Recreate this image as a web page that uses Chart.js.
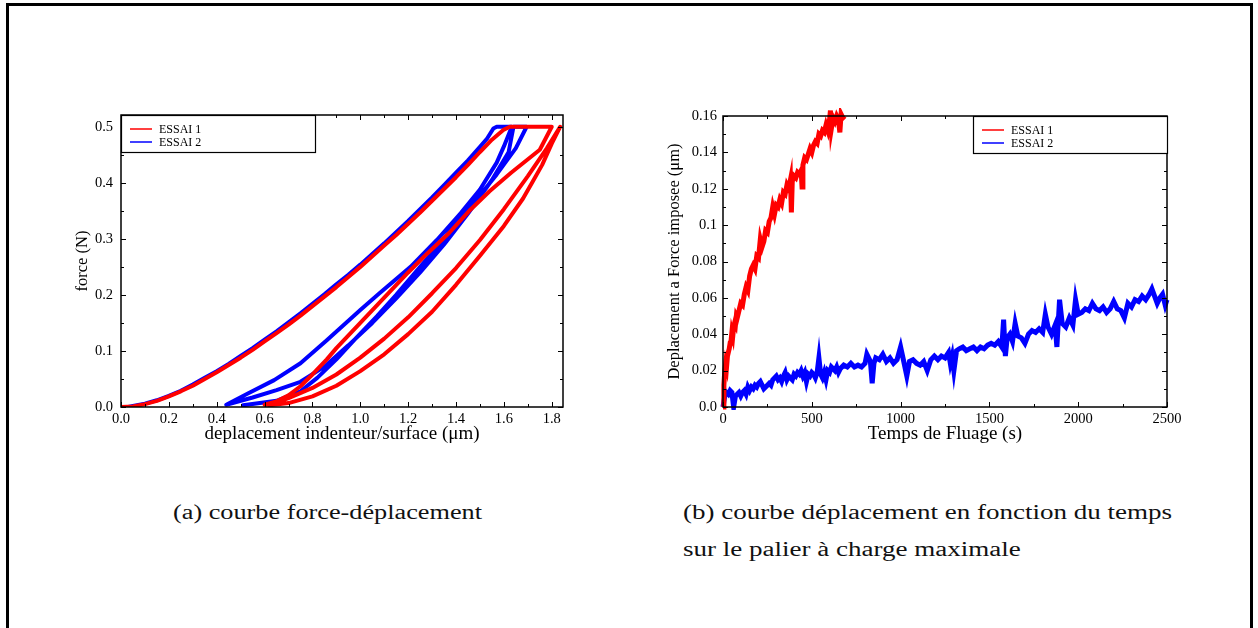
<!DOCTYPE html>
<html><head><meta charset="utf-8">
<script src="https://cdn.jsdelivr.net/npm/chart.js@4"></script>
<style>
html,body{margin:0;padding:0;background:#fff;}
body{width:1258px;height:628px;position:relative;overflow:hidden;font-family:'Liberation Serif',serif;}
#frame{position:absolute;left:6px;top:3px;width:1247px;height:700px;box-sizing:border-box;border:3px solid #000;border-bottom:none;}
canvas{position:absolute;top:0;}
#c1{left:0;} #c2{left:629px;}
.cap{position:absolute;font-size:20px;color:#111;white-space:nowrap;transform-origin:0 0;line-height:1;font-family:'Liberation Serif',serif;}
</style></head>
<body>
<div id="frame"></div>
<canvas id="c1" width="629" height="480"></canvas>
<canvas id="c2" width="629" height="480"></canvas>
<div class="cap" id="capA" style="left:173px;top:502px;">(a) courbe force-déplacement</div>
<div class="cap" id="capB1" style="left:683px;top:502px;">(b) courbe déplacement en fonction du temps</div>
<div class="cap" id="capB2" style="left:683px;top:539px;">sur le palier à charge maximale</div>
<script>
// ---------- DATA ----------
const seriesNames = ['ESSAI 1', 'ESSAI 2'];

// (a) force-displacement, ESSAI 1 : load, hold, unload, reload, unload
const essai1Disp = [0,0.05,0.1,0.15,0.2,0.25,0.3,0.35,0.4,0.45,0.5,0.55,0.6,0.65,0.7,0.75,0.8,0.85,0.9,0.95,1.0,1.05,1.1,1.15,1.2,1.25,1.3,1.35,1.4,1.45,1.5,1.55,1.6,1.625,
  1.70,1.80,
  1.75,1.63,1.54,1.46,1.37,1.28,1.2,1.1,1.0,0.9,0.86,0.8,0.75,0.7,0.65,0.6,
  0.62,0.7,0.8,0.9,1.0,1.1,1.2,1.3,1.4,1.5,1.6,1.7,1.78,1.835,
  1.8,1.76,1.72,1.68,1.6,1.5,1.4,1.3,1.2,1.1,1.0,0.9,0.8,0.7,0.62];
const essai1Force = [0,0.001,0.005,0.011,0.019,0.028,0.038,0.05,0.062,0.075,0.088,0.102,0.117,0.132,0.147,0.163,0.18,0.197,0.214,0.232,0.25,0.269,0.288,0.307,0.327,0.347,0.368,0.389,0.41,0.432,0.455,0.477,0.495,0.5,
  0.5,0.5,
  0.459,0.418,0.385,0.352,0.31,0.274,0.24,0.195,0.15,0.105,0.085,0.058,0.037,0.021,0.01,0.004,
  0.004,0.016,0.034,0.058,0.088,0.122,0.16,0.203,0.248,0.298,0.353,0.412,0.462,0.5,
  0.47,0.432,0.402,0.372,0.323,0.27,0.218,0.17,0.13,0.094,0.064,0.038,0.019,0.007,0.003];

// (a) force-displacement, ESSAI 2
const essai2Disp = [0.03,0.05,0.1,0.15,0.2,0.25,0.3,0.35,0.4,0.45,0.5,0.55,0.6,0.65,0.7,0.75,0.8,0.85,0.9,0.95,1.0,1.05,1.1,1.15,1.2,1.25,1.3,1.35,1.4,1.45,1.5,1.53,1.556,1.57,
  1.633,
  1.6,1.57,1.5,1.42,1.32,1.21,1.08,1.0,0.86,0.75,0.64,0.53,0.44,
  0.55,0.65,0.75,0.85,0.95,1.05,1.15,1.25,1.35,1.45,1.55,1.62,1.64,
  1.695,
  1.65,1.57,1.5,1.42,1.33,1.25,1.15,1.07,0.98,0.9,0.82,0.75,0.65,0.51];
const essai2Force = [0,0.002,0.006,0.012,0.02,0.029,0.04,0.052,0.064,0.077,0.091,0.105,0.12,0.135,0.151,0.167,0.184,0.201,0.219,0.236,0.254,0.273,0.292,0.312,0.332,0.353,0.374,0.396,0.418,0.44,0.464,0.479,0.497,0.5,
  0.5,
  0.465,0.436,0.388,0.346,0.298,0.25,0.203,0.173,0.119,0.078,0.048,0.024,0.004,
  0.017,0.03,0.045,0.072,0.11,0.15,0.194,0.24,0.29,0.345,0.405,0.455,0.5,
  0.5,
  0.462,0.415,0.378,0.338,0.29,0.25,0.2,0.162,0.122,0.085,0.052,0.028,0.011,0.003];

// (b) creep: displacement vs time
const essai1Time = [0,5,10,15,20,25,30,35,40,45,50,55,60,65,70,75,80,90,100,110,120,130,140,150,160,170,180,190,200,210,220,230,240,250,260,270,280,290,300,310,320,330,340,350,360,370,380,385,390,400,410,420,430,440,445,450,460,470,480,490,500,510,520,530,540,550,560,570,580,590,600,605,610,620,630,640,650,658,665,675,685];
const essai1Creep = [0,0.012,0.020,0.024,0.022,0.028,0.030,0.032,0.035,0.036,0.041,0.039,0.044,0.046,0.045,0.050,0.049,0.053,0.057,0.056,0.062,0.066,0.064,0.072,0.076,0.078,0.076,0.083,0.082,0.092,0.088,0.091,0.097,0.096,0.102,0.104,0.110,0.106,0.111,0.110,0.114,0.112,0.118,0.117,0.122,0.120,0.125,0.107,0.124,0.127,0.126,0.129,0.128,0.130,0.121,0.133,0.137,0.136,0.139,0.142,0.140,0.144,0.146,0.145,0.150,0.149,0.152,0.151,0.155,0.152,0.158,0.163,0.153,0.159,0.157,0.160,0.158,0.151,0.161,0.159,0.160];

const essai2Time = [0,10,20,30,40,50,60,70,80,90,100,110,120,130,140,150,160,170,180,190,200,210,220,230,240,250,260,270,280,290,300,310,320,330,340,350,360,370,380,390,400,410,420,430,440,450,460,470,480,490,500,510,520,530,540,550,560,570,580,590,600,610,620,630,640,650,660,680,700,720,740,760,780,800,810,820,830,840,850,860,880,900,920,940,960,980,1000,1020,1035,1050,1070,1090,1110,1130,1150,1170,1190,1210,1230,1250,1270,1280,1290,1300,1315,1330,1350,1370,1390,1410,1430,1450,1470,1490,1510,1530,1550,1570,1580,1590,1600,1615,1630,1645,1660,1680,1700,1720,1740,1760,1780,1800,1815,1830,1850,1870,1880,1895,1910,1930,1950,1970,1985,2000,2020,2040,2060,2080,2100,2120,2140,2160,2180,2200,2220,2240,2260,2280,2300,2320,2340,2360,2380,2400,2415,2430,2445,2460,2475,2490,2500];
const essai2Creep = [0,0.006,0.008,0.007,0.009,0.008,0.000,0.006,0.007,0.008,0.006,0.008,0.009,0.007,0.011,0.009,0.011,0.010,0.012,0.011,0.013,0.014,0.012,0.010,0.011,0.012,0.013,0.012,0.015,0.016,0.017,0.015,0.016,0.014,0.017,0.019,0.015,0.017,0.016,0.015,0.018,0.017,0.019,0.018,0.020,0.017,0.019,0.014,0.018,0.017,0.019,0.018,0.016,0.019,0.027,0.018,0.016,0.019,0.015,0.020,0.019,0.022,0.021,0.020,0.022,0.019,0.021,0.023,0.022,0.024,0.022,0.023,0.022,0.024,0.029,0.027,0.025,0.013,0.024,0.027,0.026,0.029,0.025,0.027,0.024,0.026,0.033,0.024,0.017,0.025,0.026,0.024,0.023,0.025,0.020,0.026,0.028,0.026,0.028,0.027,0.030,0.024,0.028,0.020,0.031,0.032,0.033,0.031,0.032,0.033,0.031,0.033,0.032,0.034,0.035,0.034,0.036,0.033,0.048,0.028,0.038,0.040,0.036,0.046,0.039,0.038,0.035,0.040,0.042,0.041,0.043,0.041,0.051,0.044,0.040,0.045,0.033,0.059,0.046,0.044,0.049,0.045,0.059,0.051,0.052,0.054,0.053,0.057,0.054,0.053,0.055,0.052,0.054,0.058,0.054,0.053,0.049,0.057,0.055,0.059,0.058,0.061,0.059,0.062,0.065,0.061,0.057,0.060,0.062,0.056,0.059];

// tick values and labels
const aXTicks = [0,0.2,0.4,0.6,0.8,1.0,1.2,1.4,1.6,1.8];
const aXLabels = ['0.0','0.2','0.4','0.6','0.8','1.0','1.2','1.4','1.6','1.8'];
const aXMinor = [0.1,0.3,0.5,0.7,0.9,1.1,1.3,1.5,1.7];
const aYTicks = [0,0.1,0.2,0.3,0.4,0.5];
const aYLabels = ['0.0','0.1','0.2','0.3','0.4','0.5'];
const aYMinor = [0.05,0.15,0.25,0.35,0.45];
const bXTicks = [0,500,1000,1500,2000,2500];
const bXLabels = ['0','500','1000','1500','2000','2500'];
const bXMinor = [250,750,1250,1750,2250];
const bYTicks = [0,0.02,0.04,0.06,0.08,0.1,0.12,0.14,0.16];
const bYLabels = ['0.0','0.02','0.04','0.06','0.08','0.1','0.12','0.14','0.16'];
const bYMinor = [0.01,0.03,0.05,0.07,0.09,0.11,0.13,0.15];

const aXTitle = 'deplacement indenteur/surface (\u03bcm)';
const aYTitle = 'force (N)';
const bXTitle = 'Temps de Fluage (s)';
const bYTitle = 'Deplacement a Force imposee (\u03bcm)';

// ---------- RENDER ----------
const RED = '#ff0000', BLUE = '#0000ff';
const SERIF = "'Liberation Serif', 'Times New Roman', serif";
const pts = (xs, ys) => xs.map((x, i) => ({x, y: ys[i]}));

const frameTicks = {
  id: 'frameTicks',
  afterDatasetsDraw(chart, args, o) {
    const {ctx, chartArea: a, scales: {x, y}} = chart;
    ctx.save();
    ctx.strokeStyle = '#000';
    ctx.lineWidth = 1;
    const vt = (vals, len) => vals.forEach(v => {
      const px = Math.round(x.getPixelForValue(v)) + 0.5;
      ctx.beginPath(); ctx.moveTo(px, a.bottom); ctx.lineTo(px, a.bottom - len);
      ctx.moveTo(px, a.top); ctx.lineTo(px, a.top + len); ctx.stroke();
    });
    const ht = (vals, len) => vals.forEach(v => {
      const py = Math.round(y.getPixelForValue(v)) + 0.5;
      ctx.beginPath(); ctx.moveTo(a.left, py); ctx.lineTo(a.left + len, py);
      ctx.moveTo(a.right, py); ctx.lineTo(a.right - len, py); ctx.stroke();
    });
    vt(o.xMajor, 5); vt(o.xMinor, 3); ht(o.yMajor, 5); ht(o.yMinor, 3);
    ctx.lineWidth = 1.5;
    ctx.strokeRect(a.left, a.top, a.right - a.left, a.bottom - a.top);
    // legend box
    const w = 194, h = 37;
    const lx = o.legendRight ? a.right - w : a.left;
    const ly = a.top;
    ctx.fillStyle = '#fff';
    ctx.fillRect(lx, ly, w, h);
    ctx.lineWidth = 1.2;
    ctx.strokeRect(lx + 0.5, ly + 0.5, w, h);
    chart.data.datasets.forEach((ds, i) => {
      const ry = ly + 14 + i * 13;
      ctx.strokeStyle = ds.borderColor; ctx.lineWidth = 1.5;
      ctx.beginPath(); ctx.moveTo(lx + 9, ry); ctx.lineTo(lx + 31, ry); ctx.stroke();
      ctx.fillStyle = '#000'; ctx.font = '12px ' + SERIF; ctx.textBaseline = 'middle';
      ctx.fillText(ds.label, lx + 38, ry + 0.5);
    });
    ctx.restore();
  }
};

function axis(min, max, ticks, labels, title, titleSize, isY, size, pad, titlePad) {
  return {
    type: 'linear', min, max,
    grid: {display: false, drawTicks: false}, border: {display: false},
    ticks: {
      color: '#000', font: {family: SERIF, size: 14.5}, padding: pad,
      autoSkip: false, maxRotation: 0,
      callback: (v, i) => labels[i]
    },
    afterBuildTicks: s => { s.ticks = ticks.map(v => ({value: v})); },
    afterFit: s => { if (isY) s.width = size; else s.height = size; },
    title: {display: true, text: title, color: '#000', font: {family: SERIF, size: titleSize}, padding: titlePad}
  };
}

function makeChart(id, datasets, xAx, yAx, pad, ft) {
  return new Chart(document.getElementById(id), {
    type: 'scatter',
    data: {datasets},
    options: {
      responsive: false, animation: false, devicePixelRatio: 1, events: [],
      layout: {padding: pad},
      plugins: {legend: {display: false}, tooltip: {enabled: false}, frameTicks: ft},
      scales: {x: xAx, y: yAx}
    },
    plugins: [frameTicks]
  });
}

makeChart('c1', [
  {label: seriesNames[0], data: pts(essai1Disp, essai1Force), borderColor: RED, backgroundColor: RED, showLine: true, borderWidth: 4, pointRadius: 0, borderJoinStyle: 'round', borderCapStyle: 'round'},
  {label: seriesNames[1], data: pts(essai2Disp, essai2Force), borderColor: BLUE, backgroundColor: BLUE, showLine: true, borderWidth: 4, pointRadius: 0, borderJoinStyle: 'round', borderCapStyle: 'round'}
],
  axis(0, 1.847, aXTicks, aXLabels, aXTitle, 19, false, 40, 3, {top: 0, bottom: 2}),
  axis(0, 0.521, aYTicks, aYLabels, aYTitle, 16.5, true, 50, 8, {top: 2, bottom: 0}),
  {left: 71, top: 115, right: 66, bottom: 33},
  {xMajor: aXTicks, xMinor: aXMinor, yMajor: aYTicks, yMinor: aYMinor, legendRight: false}
);

makeChart('c2', [
  {label: seriesNames[0], data: pts(essai1Time, essai1Creep), borderColor: RED, backgroundColor: RED, showLine: true, borderWidth: 5, pointRadius: 0, clip: {left: 3, top: 8, right: 3, bottom: 3}},
  {label: seriesNames[1], data: pts(essai2Time, essai2Creep), borderColor: BLUE, backgroundColor: BLUE, showLine: true, borderWidth: 5, pointRadius: 0, clip: {left: 3, top: 8, right: 3, bottom: 3}}
],
  axis(0, 2500, bXTicks, bXLabels, bXTitle, 19, false, 40, 3, {top: 0, bottom: 2}),
  axis(0, 0.16, bYTicks, bYLabels, bYTitle, 16.5, true, 60, 6, {top: 2, bottom: 0}),
  {left: 34, top: 116, right: 91, bottom: 33},
  {xMajor: bXTicks, xMinor: bXMinor, yMajor: bYTicks, yMinor: bYMinor, legendRight: true}
);

// captions: stretch to the reference widths
function fit(id, target) {
  const el = document.getElementById(id);
  const w = el.getBoundingClientRect().width;
  const s = target / w;
  el.style.transform = 'scaleX(' + s + ')';
  return s;
}
fit('capA', 309);
const sb = fit('capB1', 489);
document.getElementById('capB2').style.transform = 'scaleX(' + sb + ')';
</script>
</body></html>
